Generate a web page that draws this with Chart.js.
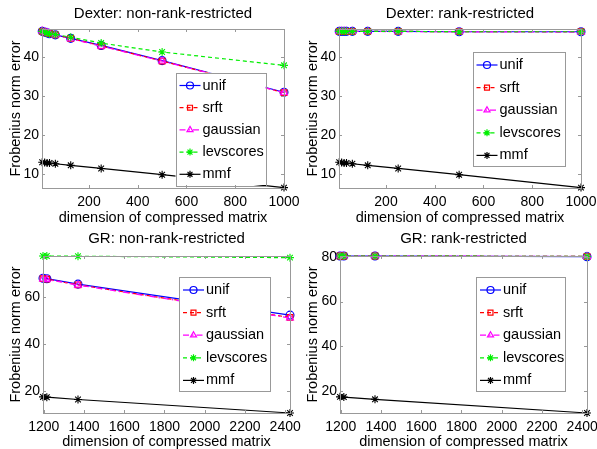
<!DOCTYPE html>
<html lang="en">
<head>
<meta charset="UTF-8">
<title>Frobenius norm error</title>
<script src="https://cdn.jsdelivr.net/npm/chart.js"></script>
<style>
  body { margin: 0; background: #fff; }
  #wrap { position: relative; width: 597px; height: 449px; overflow: hidden; }
  canvas { position: absolute; }
</style>
</head>
<body>
<div id="wrap">
  <canvas id="c0"></canvas>
  <canvas id="c1"></canvas>
  <canvas id="c2"></canvas>
  <canvas id="c3"></canvas>
</div>
<script>
// series names (legend order)
const seriesNames = ['unif', 'srft', 'gaussian', 'levscores', 'mmf'];

// Dexter
const dexterDims = [8, 18, 28, 38, 62, 125, 250, 500, 1000];
const dexterNrUnif      = [46.6, 46.4, 46.2, 46.0, 45.7, 44.8, 43.0, 39.1, 31.0];
const dexterNrSrft      = [46.6, 46.4, 46.2, 46.0, 45.7, 44.8, 42.9, 39.0, 30.9];
const dexterNrGaussian  = [46.7, 46.5, 46.3, 46.1, 45.7, 44.7, 42.8, 39.0, 30.9];
const dexterNrLevscores = [46.6, 46.4, 46.2, 46.0, 45.8, 45.1, 43.6, 41.3, 37.9];
const dexterNrMmf       = [13.1, 13.0, 12.9, 12.9, 12.7, 12.3, 11.5, 9.9, 6.6];

const dexterRrUnif      = [46.6, 46.6, 46.6, 46.6, 46.6, 46.6, 46.6, 46.5, 46.5];
const dexterRrSrft      = [46.6, 46.6, 46.6, 46.6, 46.6, 46.6, 46.6, 46.5, 46.5];
const dexterRrGaussian  = [46.6, 46.6, 46.6, 46.6, 46.6, 46.6, 46.5, 46.5, 46.4];
const dexterRrLevscores = [46.6, 46.6, 46.6, 46.6, 46.6, 46.6, 46.6, 46.5, 46.5];
const dexterRrMmf       = [13.1, 13.0, 12.9, 12.9, 12.7, 12.3, 11.5, 9.9, 6.6];

// GR
const grDims = [1196, 1215, 1370, 2424];
const grNrUnif      = [67.8, 67.6, 65.3, 52.2];
const grNrSrft      = [67.6, 67.4, 65.0, 51.2];
const grNrGaussian  = [67.5, 67.3, 64.9, 51.0];
const grNrLevscores = [77.2, 77.2, 77.1, 76.5];
const grNrMmf       = [17.6, 17.5, 16.5, 10.8];

const grRrUnif      = [80.3, 80.3, 80.3, 80.0];
const grRrSrft      = [80.3, 80.3, 80.3, 80.1];
const grRrGaussian  = [80.3, 80.3, 80.3, 80.1];
const grRrLevscores = [80.3, 80.3, 80.3, 80.1];
const grRrMmf       = [17.5, 17.4, 16.4, 10.3];

// tick labels
const dexterXTicks = [200, 400, 600, 800, 1000];
const dexterYTicks = [10, 20, 30, 40];
const grXTicks = [1200, 1400, 1600, 1800, 2000, 2200, 2400];
const grNrYTicks = [20, 40, 60];
const grRrYTicks = [20, 40, 60, 80];

// line styles per series
const seriesStyles = [
  { color: '#0000ff', dash: [], point: 'circle' },
  { color: '#ff0000', dash: [4, 3], point: 'rect' },
  { color: '#ff00ff', dash: [6, 3, 1.5, 3], point: 'triangle' },
  { color: '#00ee00', dash: [4, 3], point: 'star' },
  { color: '#000000', dash: [], point: 'star' }
];

const FONT = "'Liberation Sans', Arial, Helvetica, sans-serif";
const AXIS_COLOR = '#999';
const NONE = 'rgba(0,0,0,0)';

const panels = [
  { id: 'c0', left: 0, top: 0, w: 310, h: 225, area: { l: 42, t: 29, r: 284, b: 188 },
    title: 'Dexter: non-rank-restricted', xs: dexterDims,
    ys: [dexterNrUnif, dexterNrSrft, dexterNrGaussian, dexterNrLevscores, dexterNrMmf],
    xmin: 7.2, xmax: 1000, ymin: 6.5, ymax: 47.2, xt: dexterXTicks, yt: dexterYTicks,
    legend: { x: 175.5, y: 72.5, w: 90, h: 112.5, first: 13, gap: 22.2 } },
  { id: 'c1', left: 297, top: 0, w: 310, h: 225, area: { l: 42, t: 29, r: 284, b: 188 },
    title: 'Dexter: rank-restricted', xs: dexterDims,
    ys: [dexterRrUnif, dexterRrSrft, dexterRrGaussian, dexterRrLevscores, dexterRrMmf],
    xmin: 7.2, xmax: 1000, ymin: 6.5, ymax: 47.2, xt: dexterXTicks, yt: dexterYTicks,
    legend: { x: 175.5, y: 51.5, w: 92, h: 114, first: 13.5, gap: 22.6 } },
  { id: 'c2', left: 0, top: 225, w: 310, h: 224, area: { l: 43, t: 31, r: 290, b: 188 },
    title: 'GR: non-rank-restricted', xs: grDims,
    ys: [grNrUnif, grNrSrft, grNrGaussian, grNrLevscores, grNrMmf],
    xmin: 1196, xmax: 2424, ymin: 10.8, ymax: 77.2, xt: grXTicks, yt: grNrYTicks,
    legend: { x: 179, y: 51.5, w: 91, h: 114, first: 13.5, gap: 22.6 } },
  { id: 'c3', left: 297, top: 225, w: 310, h: 224, area: { l: 43, t: 31, r: 290, b: 188 },
    title: 'GR: rank-restricted', xs: grDims,
    ys: [grRrUnif, grRrSrft, grRrGaussian, grRrLevscores, grRrMmf],
    xmin: 1196, xmax: 2424, ymin: 10.3, ymax: 80.3, xt: grXTicks, yt: grRrYTicks,
    legend: { x: 179, y: 51.5, w: 89, h: 114, first: 13.5, gap: 22.6 } }
];

const framePlugin = {
  id: 'frame',
  afterDatasetsDraw(chart, args, opts) {
    const ctx = chart.ctx;
    const a = chart.chartArea;
    const xs = chart.scales.x, ys = chart.scales.y;
    ctx.save();
    // box + inward ticks
    ctx.strokeStyle = AXIS_COLOR;
    ctx.lineWidth = 1;
    ctx.setLineDash([]);
    ctx.strokeRect(a.left + 0.5, a.top + 0.5, a.right - a.left, a.bottom - a.top);
    ctx.beginPath();
    opts.xt.forEach(v => {
      const px = Math.round(xs.getPixelForValue(v)) + 0.5;
      ctx.moveTo(px, a.bottom); ctx.lineTo(px, a.bottom - 3);
      ctx.moveTo(px, a.top); ctx.lineTo(px, a.top + 3);
    });
    opts.yt.forEach(v => {
      const py = Math.round(ys.getPixelForValue(v)) + 0.5;
      ctx.moveTo(a.left, py); ctx.lineTo(a.left + 3, py);
      ctx.moveTo(a.right, py); ctx.lineTo(a.right - 3, py);
    });
    ctx.stroke();

    // title
    ctx.fillStyle = '#000';
    ctx.font = '15px ' + FONT;
    ctx.textAlign = 'center';
    ctx.textBaseline = 'middle';
    ctx.fillText(opts.title, (a.left + a.right) / 2, 13.5);

    // legend
    const lg = opts.legend;
    ctx.fillStyle = '#fff';
    ctx.fillRect(lg.x, lg.y, lg.w, lg.h);
    ctx.strokeStyle = AXIS_COLOR;
    ctx.strokeRect(Math.round(lg.x) + 0.5, Math.round(lg.y) + 0.5, Math.round(lg.w), Math.round(lg.h));
    seriesNames.forEach((name, i) => {
      const st = seriesStyles[i];
      const y = lg.y + lg.first + i * lg.gap;
      const x0 = lg.x + 4, x1 = lg.x + 25;
      ctx.strokeStyle = st.color;
      ctx.lineWidth = 1.2;
      ctx.setLineDash(st.dash);
      ctx.beginPath(); ctx.moveTo(x0, y); ctx.lineTo(x1, y); ctx.stroke();
      ctx.setLineDash([]);
      ctx.fillStyle = NONE;
      Chart.helpers.drawPoint(ctx, { pointStyle: st.point, radius: 3.5, borderWidth: 1.2, rotation: 0 },
        (x0 + x1) / 2, y);
      ctx.fillStyle = '#000';
      ctx.textAlign = 'left';
      ctx.font = '14.5px ' + FONT;
      ctx.fillText(name, x1 + 2, y);
    });
    ctx.restore();
  }
};

panels.forEach(p => {
  const cv = document.getElementById(p.id);
  cv.width = p.w; cv.height = p.h;
  cv.style.left = p.left + 'px'; cv.style.top = p.top + 'px';
  cv.style.width = p.w + 'px'; cv.style.height = p.h + 'px';

  const datasets = seriesNames.map((name, i) => ({
    label: name,
    data: p.xs.map((x, j) => ({ x: x, y: p.ys[i][j] })),
    borderColor: seriesStyles[i].color,
    backgroundColor: NONE,
    borderWidth: 1.2,
    borderDash: seriesStyles[i].dash,
    pointStyle: seriesStyles[i].point,
    pointRadius: 4,
    pointBorderWidth: 1.1,
    pointBorderColor: seriesStyles[i].color,
    pointBackgroundColor: NONE,
    tension: 0,
    clip: false,
    order: seriesNames.length - i
  }));

  new Chart(cv.getContext('2d'), {
    type: 'line',
    data: { datasets: datasets },
    options: {
      responsive: false,
      animation: false,
      devicePixelRatio: 1,
      layout: { padding: { top: p.area.t, right: p.w - p.area.r, left: 0, bottom: 0 } },
      plugins: {
        legend: { display: false },
        tooltip: { enabled: false },
        frame: { title: p.title, xt: p.xt, yt: p.yt, legend: p.legend }
      },
      scales: {
        x: {
          type: 'linear', min: p.xmin, max: p.xmax,
          grid: { display: false, drawTicks: false },
          border: { display: false },
          afterBuildTicks: s => { s.ticks = p.xt.map(v => ({ value: v })); },
          afterFit: s => { s.height = p.h - p.area.b; },
          ticks: { color: '#000', font: { family: FONT, size: 14 }, padding: 6,
                   autoSkip: false, maxRotation: 0, callback: v => String(v) },
          title: { display: true, text: 'dimension of compressed matrix', color: '#000',
                   font: { family: FONT, size: 14.5, lineHeight: 0.9 }, padding: 0 }
        },
        y: {
          type: 'linear', min: p.ymin, max: p.ymax,
          grid: { display: false, drawTicks: false },
          border: { display: false },
          afterBuildTicks: s => { s.ticks = p.yt.map(v => ({ value: v })); },
          afterFit: s => { s.width = p.area.l; },
          ticks: { color: '#000', font: { family: FONT, size: 14 }, padding: 3,
                   callback: v => String(v) },
          title: { display: true, text: 'Frobenius norm error', color: '#000',
                   font: { family: FONT, size: 14.5, lineHeight: 1.2 }, padding: { top: 7, bottom: 0 } }
        }
      }
    },
    plugins: [framePlugin]
  });
});
</script>
</body>
</html>
